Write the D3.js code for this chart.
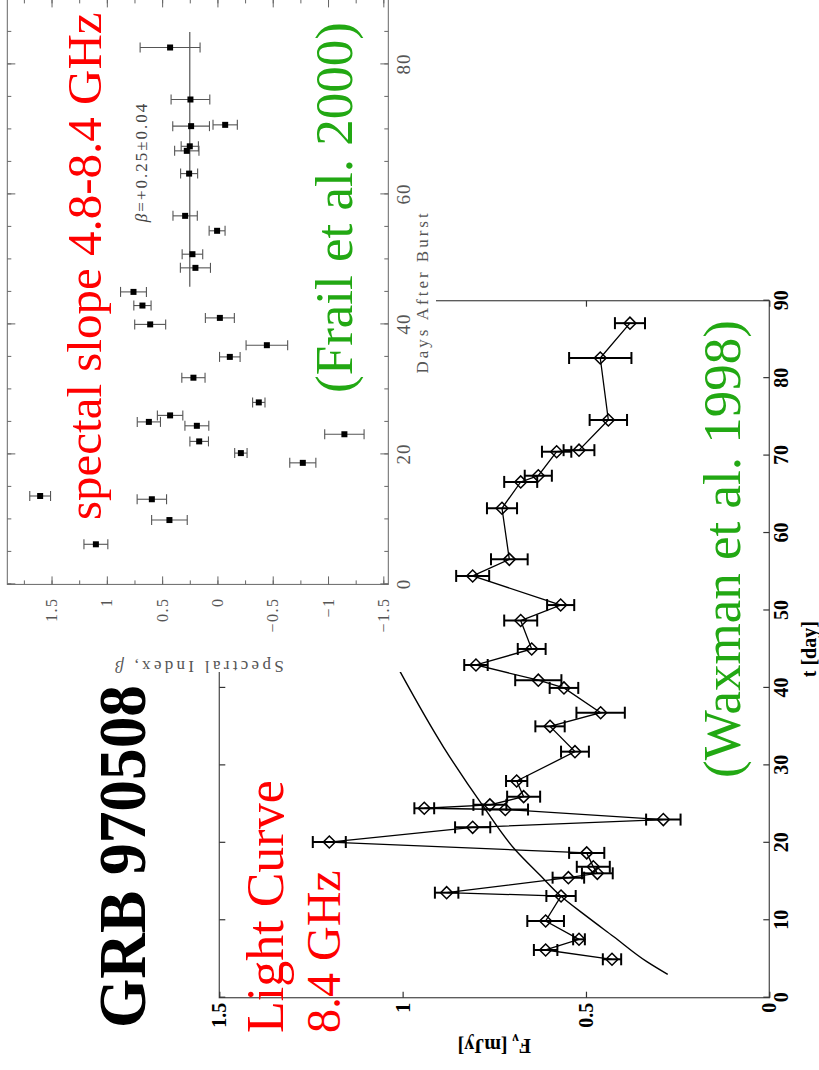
<!DOCTYPE html>
<meta charset="utf-8">
<style>
body { margin: 0; background: #fff; }
svg { display: block; background: #fff; }
.domain { display: none; }
.lc .tick text { font-family: "Liberation Serif", "Times New Roman", serif; font-weight: bold; font-size: 20px; fill: #000; }
.lc .tick line { stroke: #333; stroke-width: 1.2; }
.sp .tick text { font-family: "Liberation Serif", "Times New Roman", serif; fill: #555; }
.sp .tick line { stroke: #666; }
.big { font-family: "Liberation Serif", "Times New Roman", serif; }
</style>
<body>
<svg width="819" height="1070"></svg>
<script src="https://d3js.org/d3.v7.min.js"></script>
<script>
// light curve at 8.4 GHz (Waxman et al. 1998)
var lcDay  = [4.96, 6.16, 7.54, 9.9, 13.13, 13.56, 15.5, 16.06, 16.9, 18.7, 20.1, 22.0, 23.0, 24.3, 24.46, 24.9, 25.96, 27.98, 31.77, 35.04, 36.8, 40.0, 41.0, 42.96, 45.03, 48.7, 50.7, 54.46, 56.6, 63.2, 66.6, 67.4, 70.5, 70.7, 74.6, 82.6, 87.1];
var lcFlux = [0.429, 0.610, 0.519, 0.610, 0.568, 0.880, 0.548, 0.469, 0.480, 0.498, 1.200, 0.809, 0.289, 0.720, 0.941, 0.762, 0.670, 0.689, 0.530, 0.598, 0.460, 0.560, 0.630, 0.800, 0.648, 0.678, 0.569, 0.809, 0.709, 0.729, 0.678, 0.630, 0.580, 0.519, 0.439, 0.461, 0.380];
var lcErr  = [0.025, 0.032, 0.016, 0.05, 0.04, 0.032, 0.043, 0.042, 0.045, 0.048, 0.045, 0.048, 0.047, 0.062, 0.027, 0.045, 0.045, 0.029, 0.038, 0.04, 0.066, 0.039, 0.063, 0.032, 0.038, 0.045, 0.037, 0.045, 0.05, 0.041, 0.045, 0.037, 0.04, 0.042, 0.051, 0.085, 0.041];

// model curve
var modelDay  = [3.0, 4.65, 7.9, 10.5, 13.1, 15.8, 19.1, 24.7, 32.4, 42.1];
var modelFlux = [0.277, 0.334, 0.425, 0.498, 0.568, 0.625, 0.693, 0.78, 0.889, 1.007];

var tTicks = [0, 10, 20, 30, 40, 50, 60, 70, 80, 90];
var fTicks = [0, 0.5, 1, 1.5];

// spectral index 4.8-8.4 GHz (Frail et al. 2000)
var spDay  = [6.17, 9.9, 13.1, 13.6, 18.7, 20.2, 22.0, 23.1, 24.4, 25.0, 26.0, 28.0, 31.8, 35.0, 36.8, 40.0, 41.0, 42.9, 45.0, 48.7, 50.8, 54.4, 56.7, 63.2, 66.7, 67.4, 70.5, 70.7, 74.6, 82.6];
var spBeta = [1.099, 0.434, 0.593, 1.603, -0.772, -0.212, 0.165, -1.148, 0.186, 0.620, 0.428, -0.374, 0.217, -0.112, -0.447, 0.608, -0.022, 0.678, 0.759, 0.199, 0.226, 0.003, 0.292, 0.256, 0.277, 0.25, 0.238, -0.07, 0.244, 0.428];
var spErr  = [0.108, 0.161, 0.133, 0.094, 0.118, 0.056, 0.084, 0.178, 0.108, 0.105, 0.115, 0.056, 0.105, 0.093, 0.188, 0.14, 0.131, 0.078, 0.117, 0.136, 0.093, 0.072, 0.11, 0.077, 0.11, 0.078, 0.166, 0.11, 0.175, 0.271];
var fitBeta = 0.25, fitDays = [45.8, 85.0];

var dayMajor = [0, 20, 40, 60, 80];
var betaMajor = [-1.5, -1, -0.5, 0, 0.5, 1, 1.5];

var svg = d3.select("svg");
// the whole sheet is laid out landscape and turned a quarter turn
var page = svg.append("g").attr("transform", "translate(0,1070) rotate(-90)");

// ---------- light curve ----------
var lc = page.append("g").attr("class", "lc");
var t = d3.scaleLinear().domain([0, 90]).range([72.3, 769.3]);
var f = d3.scaleLinear().domain([0, 1.5]).range([769.3, 219.3]);

lc.append("rect")
    .attr("x", t(0)).attr("y", f(1.5))
    .attr("width", t(90) - t(0)).attr("height", f(0) - f(1.5))
    .attr("fill", "none").attr("stroke", "#555").attr("stroke-width", 1.3);

lc.append("g").attr("transform", "translate(0," + f(0) + ")")
    .call(d3.axisBottom(t).tickValues(tTicks).tickSize(-6).tickSizeOuter(0).tickPadding(5));
lc.append("g").attr("transform", "translate(0," + f(1.5) + ")")
    .call(d3.axisTop(t).tickValues(tTicks).tickSize(-6).tickSizeOuter(0).tickFormat(""));
lc.append("g").attr("transform", "translate(" + t(0) + ",0)")
    .call(d3.axisLeft(f).tickValues(fTicks).tickSize(-6).tickSizeOuter(0).tickPadding(5).tickFormat(d3.format("")));
lc.append("g").attr("transform", "translate(" + t(90) + ",0)")
    .call(d3.axisRight(f).tickValues(fTicks).tickSize(-6).tickSizeOuter(0).tickFormat(""));

lc.append("path")
    .datum(d3.zip(modelDay, modelFlux))
    .attr("d", d3.line().x(function(d) { return t(d[0]); }).y(function(d) { return f(d[1]); }).curve(d3.curveMonotoneX))
    .attr("fill", "none").attr("stroke", "#000").attr("stroke-width", 1.4);

var lcData = lcDay.map(function(d, i) { return {t: d, f: lcFlux[i], e: lcErr[i]}; });

lc.append("path")
    .datum(lcData)
    .attr("d", d3.line().x(function(d) { return t(d.t); }).y(function(d) { return f(d.f); }))
    .attr("fill", "none").attr("stroke", "#000").attr("stroke-width", 1.3);

var eb = lc.selectAll(".eb").data(lcData).enter().append("g")
    .attr("stroke", "#000").attr("stroke-width", 2);
eb.append("line")
    .attr("x1", function(d) { return t(d.t); }).attr("x2", function(d) { return t(d.t); })
    .attr("y1", function(d) { return f(d.f - d.e); }).attr("y2", function(d) { return f(d.f + d.e); });
eb.append("line")
    .attr("x1", function(d) { return t(d.t) - 6; }).attr("x2", function(d) { return t(d.t) + 6; })
    .attr("y1", function(d) { return f(d.f - d.e); }).attr("y2", function(d) { return f(d.f - d.e); });
eb.append("line")
    .attr("x1", function(d) { return t(d.t) - 6; }).attr("x2", function(d) { return t(d.t) + 6; })
    .attr("y1", function(d) { return f(d.f + d.e); }).attr("y2", function(d) { return f(d.f + d.e); });

lc.selectAll(".dm").data(lcData).enter().append("path")
    .attr("transform", function(d) { return "translate(" + t(d.t) + "," + f(d.f) + ")"; })
    .attr("d", "M0,-6L6,0L0,6L-6,0Z")
    .attr("fill", "none").attr("stroke", "#000").attr("stroke-width", 1.5);

lc.append("text").attr("class", "big")
    .attr("x", (t(0) + t(90)) / 2).attr("y", 816)
    .attr("text-anchor", "middle").attr("font-size", 20).attr("font-weight", "bold")
    .text("t [day]");

var fl = lc.append("text").attr("class", "big")
    .attr("transform", "translate(31," + (f(0) + f(1.5)) / 2 + ") rotate(-90)")
    .attr("text-anchor", "middle").attr("font-size", 20).attr("font-weight", "bold");
fl.append("tspan").text("F");
fl.append("tspan").attr("dy", 5).attr("font-size", 14).text("ν");
fl.append("tspan").attr("dy", -5).text(" [mJy]");

// ---------- spectral index panel ----------
var sp = page.append("g").attr("class", "sp");
sp.append("rect").attr("x", 398).attr("y", 0).attr("width", 680).attr("height", 436).attr("fill", "#fff");

var d = d3.scaleLinear().domain([0, 90]).range([485.6, 1070.6]);
var b = d3.scaleLinear().domain([-1.545, 1.9]).range([388.3, 7.3]);

sp.append("rect")
    .attr("x", d(0)).attr("y", b(1.9))
    .attr("width", d(90) - d(0)).attr("height", b(-1.545) - b(1.9))
    .attr("fill", "none").attr("stroke", "#666").attr("stroke-width", 1);

var dayMinor = d3.range(0, 91, 5), betaMinor = d3.range(-1.5, 1.9, 0.25);

sp.append("g").attr("transform", "translate(0," + b(-1.545) + ")")
    .call(d3.axisBottom(d).tickValues(dayMinor).tickSize(-4).tickSizeOuter(0).tickFormat(""));
sp.append("g").attr("class", "dlab").attr("transform", "translate(0," + b(-1.545) + ")")
    .call(d3.axisBottom(d).tickValues(dayMajor).tickSize(-8).tickSizeOuter(0).tickPadding(8));
sp.append("g").attr("transform", "translate(0," + b(1.9) + ")")
    .call(d3.axisTop(d).tickValues(dayMinor).tickSize(-4).tickSizeOuter(0).tickFormat(""));
sp.append("g").attr("transform", "translate(0," + b(1.9) + ")")
    .call(d3.axisTop(d).tickValues(dayMajor).tickSize(-8).tickSizeOuter(0).tickFormat(""));

var betaFmt = function(v) { return v < 0 ? "\u2212" + Math.abs(v) : "" + v; };
sp.append("g").attr("transform", "translate(" + d(0) + ",0)")
    .call(d3.axisLeft(b).tickValues(betaMinor).tickSize(-4).tickSizeOuter(0).tickFormat(""));
sp.append("g").attr("class", "blab").attr("transform", "translate(" + d(0) + ",0)")
    .call(d3.axisLeft(b).tickValues(betaMajor).tickSize(-8).tickSizeOuter(0).tickPadding(13).tickFormat(betaFmt));
sp.append("g").attr("transform", "translate(" + d(90) + ",0)")
    .call(d3.axisRight(b).tickValues(betaMinor).tickSize(-4).tickSizeOuter(0).tickFormat(""));
sp.append("g").attr("transform", "translate(" + d(90) + ",0)")
    .call(d3.axisRight(b).tickValues(betaMajor).tickSize(-8).tickSizeOuter(0).tickFormat(""));

sp.selectAll(".dlab text").style("font-size", "19px").style("letter-spacing", "1px");
sp.selectAll(".blab text").style("font-size", "16px").style("letter-spacing", "1.5px");

sp.append("line")
    .attr("x1", d(fitDays[0])).attr("x2", d(fitDays[1]))
    .attr("y1", b(fitBeta)).attr("y2", b(fitBeta))
    .attr("stroke", "#555").attr("stroke-width", 1.2);

var spData = spDay.map(function(v, i) { return {d: v, b: spBeta[i], e: spErr[i]}; });
var se = sp.selectAll(".se").data(spData).enter().append("g")
    .attr("stroke", "#555").attr("stroke-width", 1.1);
se.append("line")
    .attr("x1", function(p) { return d(p.d); }).attr("x2", function(p) { return d(p.d); })
    .attr("y1", function(p) { return b(p.b - p.e); }).attr("y2", function(p) { return b(p.b + p.e); });
se.append("line")
    .attr("x1", function(p) { return d(p.d) - 5; }).attr("x2", function(p) { return d(p.d) + 5; })
    .attr("y1", function(p) { return b(p.b - p.e); }).attr("y2", function(p) { return b(p.b - p.e); });
se.append("line")
    .attr("x1", function(p) { return d(p.d) - 5; }).attr("x2", function(p) { return d(p.d) + 5; })
    .attr("y1", function(p) { return b(p.b + p.e); }).attr("y2", function(p) { return b(p.b + p.e); });

sp.selectAll(".sq").data(spData).enter().append("rect")
    .attr("x", function(p) { return d(p.d) - 3; }).attr("y", function(p) { return b(p.b) - 3; })
    .attr("width", 6).attr("height", 6).attr("fill", "#000");

sp.append("text").attr("class", "big")
    .attr("x", d(45)).attr("y", 428).attr("text-anchor", "middle")
    .attr("font-size", 17).attr("letter-spacing", 3).attr("fill", "#555")
    .text("Days After Burst");

var yl = sp.append("text").attr("class", "big")
    .attr("transform", "translate(409," + (b(1.9) + b(-1.545)) / 2 + ") rotate(-90)")
    .attr("text-anchor", "middle").attr("font-size", 17).attr("letter-spacing", 3.3).attr("fill", "#555");
yl.append("tspan").text("Spectral Index, ");
yl.append("tspan").attr("font-style", "italic").text("β");

var fit = sp.append("text").attr("class", "big")
    .attr("x", d(65)).attr("y", 147).attr("text-anchor", "middle")
    .attr("font-size", 17).attr("letter-spacing", 2).attr("fill", "#444");
fit.append("tspan").attr("font-style", "italic").text("β");
fit.append("tspan").text("=+0.25±0.04");

// ---------- annotations ----------
page.append("text").attr("class", "big")
    .attr("x", 42).attr("y", 145).attr("font-size", 68).attr("font-weight", "bold").attr("fill", "#000")
    .attr("textLength", 343).attr("lengthAdjust", "spacingAndGlyphs")
    .text("GRB 970508");
page.append("text").attr("class", "big")
    .attr("x", 37).attr("y", 283).attr("font-size", 52).attr("fill", "#ff0000")
    .text("Light Curve");
page.append("text").attr("class", "big")
    .attr("x", 37).attr("y", 340).attr("font-size", 48).attr("fill", "#ff0000")
    .text("8.4 GHz");
page.append("text").attr("class", "big")
    .attr("x", 550).attr("y", 101).attr("font-size", 49).attr("fill", "#ff0000")
    .text("spectal slope 4.8-8.4 GHz");
page.append("text").attr("class", "big")
    .attr("x", 677).attr("y", 352).attr("font-size", 53).attr("fill", "#22a813")
    .text("(Frail et al. 2000)");
page.append("text").attr("class", "big")
    .attr("x", 292).attr("y", 740).attr("font-size", 53).attr("fill", "#22a813")
    .text("(Waxman et al. 1998)");
</script>
</body>
